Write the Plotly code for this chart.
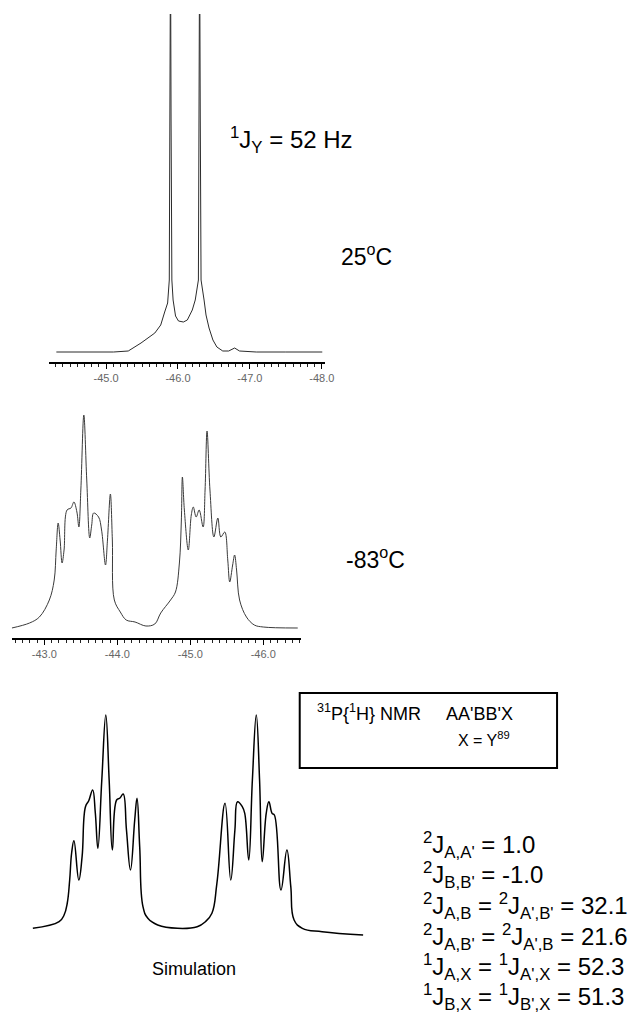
import plotly.graph_objects as go

# ---------------- data ----------------
# 25 C spectrum (chemical shift in ppm, intensity in arbitrary units; the two lines run off the top)
rt_ppm = [-44.308, -44.760, -45.103, -45.308, -45.486, -45.678, -45.760, -45.815, -45.856,
          -45.879, -45.888, -45.896, -45.904, -45.915, -45.932, -45.966, -46.007, -46.075,
          -46.130, -46.199, -46.240, -46.267, -46.284, -46.292, -46.301, -46.310, -46.321,
          -46.363, -46.390, -46.432, -46.486, -46.541, -46.623, -46.705, -46.788, -46.856,
          -47.089, -47.500, -48.007]
rt_int = [0, 0, 0, 1, 9, 19, 27, 40, 49,
          72, 232, 412, 232, 72, 52, 36, 31, 30,
          32, 42, 52, 67, 72, 232, 412, 232, 72,
          52, 37, 24, 12, 5, 1, 1, 4, 1,
          0, 0, 0]

# -83 C spectrum
lt_ppm = [-42.554, -42.797, -42.932, -43.068, -43.135, -43.162, -43.189, -43.216, -43.243,
          -43.270, -43.311, -43.365, -43.405, -43.446, -43.473, -43.500, -43.541, -43.581,
          -43.622, -43.649, -43.676, -43.743, -43.784, -43.838, -43.865, -43.905, -43.932,
          -43.959, -44.041, -44.122, -44.243, -44.392, -44.514, -44.595, -44.730, -44.797,
          -44.851, -44.878, -44.892, -44.919, -44.973, -45.014, -45.041, -45.081, -45.122,
          -45.176, -45.203, -45.230, -45.270, -45.324, -45.378, -45.419, -45.473, -45.514,
          -45.541, -45.581, -45.608, -45.635, -45.676, -45.770, -45.878, -46.000, -46.473]
lt_int = [0, 5, 11, 28, 48, 78, 105, 88, 65,
          78, 118, 120, 126, 116, 101, 138, 213, 148,
          90, 103, 115, 111, 98, 63, 88, 134, 88,
          28, 16, 8, 6, 2, 4, 15, 28, 36,
          65, 108, 151, 118, 78, 113, 121, 111, 118,
          101, 138, 197, 138, 91, 110, 91, 96, 68,
          46, 63, 73, 58, 28, 11, 3, 1, 0]

# simulated spectrum
sim_ppm = [-42.926, -43.222, -43.278, -43.314, -43.341, -43.363, -43.389, -43.444, -43.481,
           -43.519, -43.556, -43.600, -43.630, -43.659, -43.703, -43.748, -43.786, -43.822,
           -43.870, -43.908, -43.944, -43.981, -44.026, -44.074, -44.100, -44.130, -44.167,
           -44.222, -44.333, -44.556, -44.778, -44.870, -44.944, -45.000, -45.092, -45.156,
           -45.203, -45.233, -45.286, -45.314, -45.359, -45.400, -45.444, -45.481, -45.511,
           -45.556, -45.586, -45.622, -45.648, -45.722, -45.789, -45.833, -45.870, -45.963,
           -46.186, -46.648]
sim_int = [1.7, 8.3, 15, 27, 50, 77, 89.3, 50, 73.3,
           123.3, 129.3, 140, 117, 81.7, 150, 215, 150, 80,
           130, 132, 136, 100, 60, 110, 131.7, 83.3, 23.3,
           11.7, 5, 1.7, 3.3, 8.3, 16.7, 46.7, 126.7, 50,
           100, 128.3, 123.3, 116.7, 70, 150, 215, 150, 68.3,
           116.7, 128.3, 116.7, 115, 40, 80, 43.3, 10, 1.7,
           -1.7, -5]

rt_tick_vals = [-45, -46, -47, -48]
rt_tick_text = ["-45.0", "-46.0", "-47.0", "-48.0"]
lt_tick_vals = [-43, -44, -45, -46]
lt_tick_text = ["-43.0", "-44.0", "-45.0", "-46.0"]

coupling_names = [("2", "A,A'", None, None), ("2", "B,B'", None, None),
                  ("2", "A,B", "2", "A',B'"), ("2", "A,B'", "2", "A',B"),
                  ("1", "A,X", "1", "A',X"), ("1", "B,X", "1", "B',X")]
coupling_values = ["1.0", "-1.0", "32.1", "21.6", "52.3", "51.3"]

# ---------------- figure ----------------
W, H = 640, 1016
def px(x):
    return x / W
def py(y):
    return 1 - y / H

FONT = "Liberation Sans, Arial, Helvetica, sans-serif"

fig = go.Figure()
fig.add_trace(go.Scatter(x=rt_ppm, y=rt_int, mode="lines", xaxis="x", yaxis="y",
                         line=dict(color="#2b2b2b", width=1), hoverinfo="skip"))
fig.add_trace(go.Scatter(x=lt_ppm, y=lt_int, mode="lines", xaxis="x2", yaxis="y2",
                         line=dict(color="#3a3a3a", width=1, shape="spline", smoothing=1.0),
                         hoverinfo="skip"))
fig.add_trace(go.Scatter(x=sim_ppm, y=sim_int, mode="lines", xaxis="x3", yaxis="y3",
                         line=dict(color="black", width=1.5, shape="spline", smoothing=1.2),
                         hoverinfo="skip"))

def spec_axis(domain, rng, anchor, vals, text):
    return dict(domain=domain, range=rng, anchor=anchor, showgrid=False, zeroline=False,
                showline=True, linecolor="black", linewidth=1.5,
                ticks="outside", ticklen=5, tickwidth=1, tickcolor="black",
                tickmode="array", tickvals=vals, ticktext=text,
                tickfont=dict(family=FONT, size=11, color="#666"),
                minor=dict(ticks="outside", ticklen=3, tickwidth=1, tickcolor="#222",
                           tick0=-45, dtick=0.1))

fig.update_layout(
    width=W, height=H, margin=dict(l=0, r=0, t=0, b=0),
    paper_bgcolor="white", plot_bgcolor="white", showlegend=False,
    xaxis=spec_axis([px(50), px(330)], [-44.21, -48.05], "y", rt_tick_vals, rt_tick_text),
    yaxis=dict(domain=[py(362), py(14)], range=[-10, 338], visible=False),
    xaxis2=spec_axis([px(12), px(305)], [-42.554, -46.514], "y2", lt_tick_vals, lt_tick_text),
    yaxis2=dict(domain=[py(638), py(400)], range=[-10, 228], visible=False),
    xaxis3=dict(domain=[px(20), px(380)], range=[-42.778, -46.778], anchor="y3", visible=False),
    yaxis3=dict(domain=[py(940), py(700)], range=[-10, 230], visible=False),
)

def note(x, y, text, size, xanchor="left"):
    fig.add_annotation(x=px(x), y=py(y), xref="paper", yref="paper", text=text,
                       showarrow=False, xanchor=xanchor, yanchor="middle",
                       font=dict(family=FONT, size=size, color="black"))

note(231, 140, "<sup>1</sup>J<sub>Y</sub> = 52 Hz", 24)
note(344, 255, "25<sup>o</sup>C", 23)
note(349, 558, "-83<sup>o</sup>C", 23)
note(197, 969, "Simulation", 18, "center")

# info box
fig.add_shape(type="rect", xref="paper", yref="paper", x0=px(304), x1=px(565), y0=py(768), y1=py(693),
              line=dict(color="black", width=2), fillcolor="rgba(0,0,0,0)")
note(319, 712, "<sup>31</sup>P{<sup>1</sup>H} NMR&nbsp;&nbsp;&nbsp;&nbsp;&nbsp;AA'BB'X", 18)
note(491, 739, "X = Y<sup>89</sup>", 16, "center")

# coupling constants
ys = [845, 875, 906, 937, 967, 997]
for (n1, s1, n2, s2), val, yy in zip(coupling_names, coupling_values, ys):
    t = f"<sup>{n1}</sup>J<sub>{s1}</sub> = "
    if n2 is not None:
        t += f"<sup>{n2}</sup>J<sub>{s2}</sub> = "
    t += val
    note(427, yy, t, 24)

fig.write_html("out.html", config={"displayModeBar": False},
               post_script="document.body.style.margin='0';")
